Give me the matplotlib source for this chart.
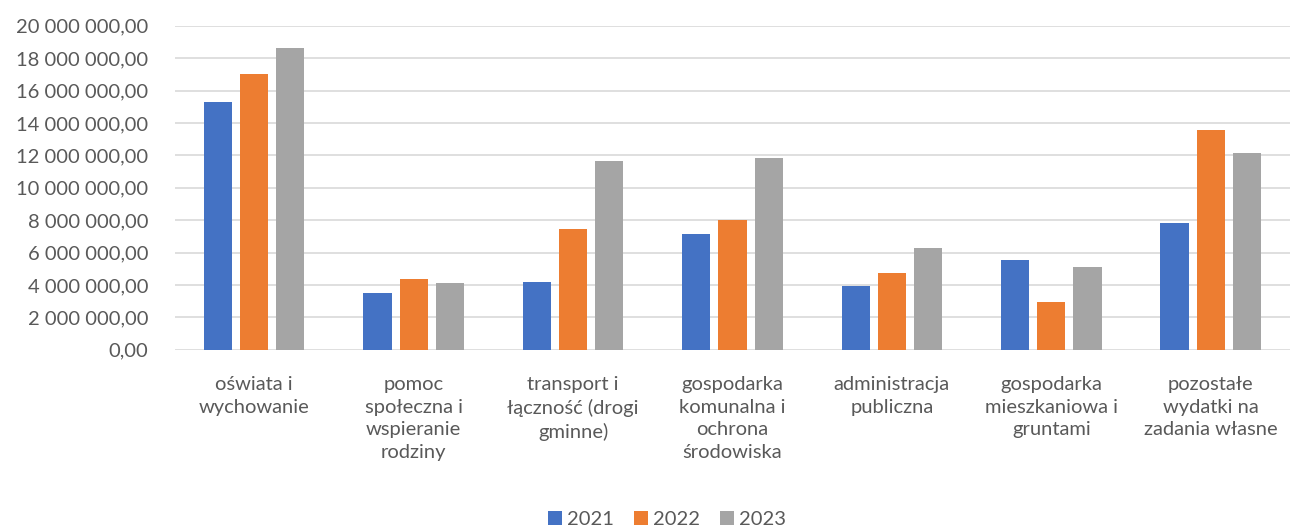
import matplotlib.pyplot as plt
import numpy as np
from matplotlib.ticker import FuncFormatter

categories = ["oświata i\nwychowanie", "pomoc\nspołeczna i\nwspieranie\nrodziny",
              "transport i\nłączność (drogi\ngminne)", "gospodarka\nkomunalna i\nochrona\nśrodowiska",
              "administracja\npubliczna", "gospodarka\nmieszkaniowa i\ngruntami",
              "pozostałe\nwydatki na\nzadania własne"]
years = ["2021", "2022", "2023"]
v2021 = [15300000, 3500000, 4180000, 7120000, 3910000, 5560000, 7800000]
v2022 = [17000000, 4360000, 7430000, 7990000, 4710000, 2920000, 13580000]
v2023 = [18620000, 4120000, 11670000, 11830000, 6300000, 5120000, 12160000]
colors = ["#4472c4", "#ed7d31", "#a5a5a5"]

plt.rcParams['font.family'] = ['Lato', 'DejaVu Sans']
txt = '#595959'

fig = plt.figure(figsize=(12.93, 5.30), dpi=100)
ax = fig.add_axes([0.135, 0.34, 0.863, 0.6115])

x = np.arange(len(categories))
w = 0.176
step = 0.227
for i, (vals, c, lab) in enumerate(zip([v2021, v2022, v2023], colors, years)):
    ax.bar(x + (i - 1) * step, vals, w, color=c, label=lab, zorder=3)

ax.set_xlim(-0.5, len(categories) - 0.5)
ax.set_ylim(0, 20000000)
ax.set_yticks(np.arange(0, 20000001, 2000000))
ax.yaxis.set_major_formatter(FuncFormatter(lambda v, p: f"{v:,.2f}".replace(",", " ").replace(".", ",")))
ax.grid(axis='y', color='#d9d9d9', linewidth=1.2, zorder=0)
for s in ax.spines.values():
    s.set_visible(False)
ax.tick_params(axis='both', length=0, labelsize=14.5, colors=txt)
ax.tick_params(axis='y', pad=19)
ax.set_xticks(x)
ax.set_xticklabels(categories, linespacing=1.4, va='top')
ax.tick_params(axis='x', pad=19)

ax.legend(loc='center', bbox_to_anchor=(0.4415, -0.525), ncol=3, frameon=False,
          fontsize=14.5, handlelength=0.7, handleheight=0.7, handletextpad=0.25, columnspacing=1.0,
          labelcolor=txt)

fig.savefig('out.png', dpi=100)
